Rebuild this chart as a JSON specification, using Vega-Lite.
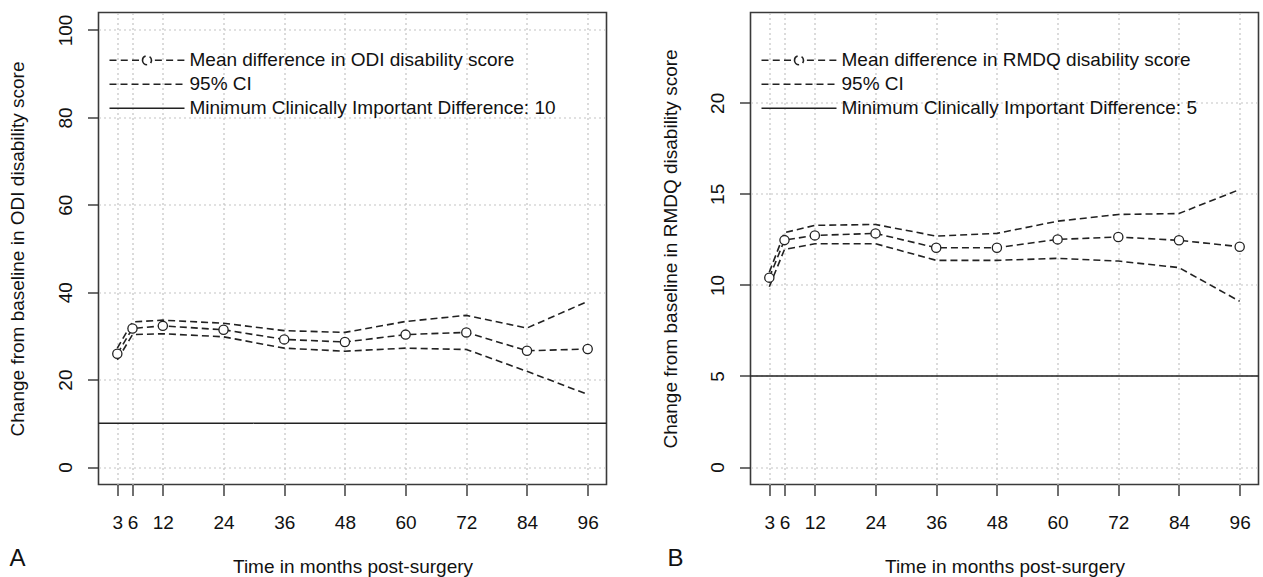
{
  "$schema": "https://vega.github.io/schema/vega-lite/v6.json",
  "background": "white",
  "padding": {"left": 7.5, "top": 11.5, "right": 0, "bottom": 0},
  "bounds": "flush",
  "spacing": 144,
  "config": {
    "font": "Liberation Sans",
    "view": {"stroke": "#3a3a3a", "strokeWidth": 1.6},
    "axis": {
      "domain": false,
      "grid": true,
      "gridColor": "#c4c4c4",
      "gridDash": [2, 3],
      "gridWidth": 1.2,
      "tickColor": "#333333",
      "tickWidth": 1.4,
      "tickSize": 11,
      "labelFont": "Liberation Sans",
      "labelFontSize": 19,
      "labelColor": "#111111",
      "labelOverlap": false,
      "labelFlush": false,
      "titleFont": "Liberation Sans",
      "titleFontSize": 19,
      "titleFontWeight": "normal",
      "titleColor": "#111111"
    },
    "legend": {
      "orient": "none",
      "padding": 0,
      "labelFont": "Liberation Sans",
      "labelFontSize": 19,
      "labelColor": "#111111",
      "labelLimit": 700,
      "labelOffset": 4,
      "symbolSize": 5625,
      "symbolStrokeWidth": 1.6,
      "symbolStrokeColor": "#222222",
      "symbolType": "stroke",
      "symbolOffset": 0,
      "clipHeight": 23.5,
      "rowPadding": 0
    },
    "title": {"fontSize": 24, "fontWeight": "normal", "color": "#111111", "font": "Liberation Sans"}
  },
  "datasets": {
    "odi": [
      {"month": 3, "series": "mean", "band": "mean", "value": 25.9},
      {"month": 6, "series": "mean", "band": "mean", "value": 31.7},
      {"month": 12, "series": "mean", "band": "mean", "value": 32.3},
      {"month": 24, "series": "mean", "band": "mean", "value": 31.4},
      {"month": 36, "series": "mean", "band": "mean", "value": 29.2},
      {"month": 48, "series": "mean", "band": "mean", "value": 28.6},
      {"month": 60, "series": "mean", "band": "mean", "value": 30.3},
      {"month": 72, "series": "mean", "band": "mean", "value": 30.8},
      {"month": 84, "series": "mean", "band": "mean", "value": 26.6},
      {"month": 96, "series": "mean", "band": "mean", "value": 27.0},
      {"month": 3, "series": "upper", "band": "ci", "value": 27.2},
      {"month": 6, "series": "upper", "band": "ci", "value": 33.2},
      {"month": 12, "series": "upper", "band": "ci", "value": 33.6},
      {"month": 24, "series": "upper", "band": "ci", "value": 32.9},
      {"month": 36, "series": "upper", "band": "ci", "value": 31.2},
      {"month": 48, "series": "upper", "band": "ci", "value": 30.8},
      {"month": 60, "series": "upper", "band": "ci", "value": 33.3},
      {"month": 72, "series": "upper", "band": "ci", "value": 34.7},
      {"month": 84, "series": "upper", "band": "ci", "value": 31.8},
      {"month": 96, "series": "upper", "band": "ci", "value": 37.9},
      {"month": 3, "series": "lower", "band": "ci", "value": 24.5},
      {"month": 6, "series": "lower", "band": "ci", "value": 30.3},
      {"month": 12, "series": "lower", "band": "ci", "value": 30.5},
      {"month": 24, "series": "lower", "band": "ci", "value": 29.8},
      {"month": 36, "series": "lower", "band": "ci", "value": 27.2},
      {"month": 48, "series": "lower", "band": "ci", "value": 26.5},
      {"month": 60, "series": "lower", "band": "ci", "value": 27.2},
      {"month": 72, "series": "lower", "band": "ci", "value": 26.9},
      {"month": 84, "series": "lower", "band": "ci", "value": 21.9},
      {"month": 96, "series": "lower", "band": "ci", "value": 16.6}
    ],
    "odi_mcid": [{"value": 10, "band": "mcid"}],
    "rmdq": [
      {"month": 3, "series": "mean", "band": "mean", "value": 10.4},
      {"month": 6, "series": "mean", "band": "mean", "value": 12.46},
      {"month": 12, "series": "mean", "band": "mean", "value": 12.72},
      {"month": 24, "series": "mean", "band": "mean", "value": 12.83},
      {"month": 36, "series": "mean", "band": "mean", "value": 12.04},
      {"month": 48, "series": "mean", "band": "mean", "value": 12.04},
      {"month": 60, "series": "mean", "band": "mean", "value": 12.5},
      {"month": 72, "series": "mean", "band": "mean", "value": 12.63},
      {"month": 84, "series": "mean", "band": "mean", "value": 12.45},
      {"month": 96, "series": "mean", "band": "mean", "value": 12.1},
      {"month": 3, "series": "upper", "band": "ci", "value": 10.7},
      {"month": 6, "series": "upper", "band": "ci", "value": 12.87},
      {"month": 12, "series": "upper", "band": "ci", "value": 13.27},
      {"month": 24, "series": "upper", "band": "ci", "value": 13.32},
      {"month": 36, "series": "upper", "band": "ci", "value": 12.68},
      {"month": 48, "series": "upper", "band": "ci", "value": 12.83},
      {"month": 60, "series": "upper", "band": "ci", "value": 13.5},
      {"month": 72, "series": "upper", "band": "ci", "value": 13.87},
      {"month": 84, "series": "upper", "band": "ci", "value": 13.92},
      {"month": 96, "series": "upper", "band": "ci", "value": 15.24},
      {"month": 3, "series": "lower", "band": "ci", "value": 9.9},
      {"month": 6, "series": "lower", "band": "ci", "value": 11.95},
      {"month": 12, "series": "lower", "band": "ci", "value": 12.26},
      {"month": 24, "series": "lower", "band": "ci", "value": 12.26},
      {"month": 36, "series": "lower", "band": "ci", "value": 11.35},
      {"month": 48, "series": "lower", "band": "ci", "value": 11.35},
      {"month": 60, "series": "lower", "band": "ci", "value": 11.46},
      {"month": 72, "series": "lower", "band": "ci", "value": 11.31},
      {"month": 84, "series": "lower", "band": "ci", "value": 10.95},
      {"month": 96, "series": "lower", "band": "ci", "value": 9.1}
    ],
    "rmdq_mcid": [{"value": 5, "band": "mcid"}]
  },
  "resolve": {
    "scale": {"x": "independent", "y": "independent", "strokeDash": "independent"},
    "legend": {"strokeDash": "independent"}
  },
  "hconcat": [
    {
      "width": 508,
      "height": 472,
      "title": {"text": "A", "orient": "bottom", "anchor": "start", "frame": "group", "dx": -89, "offset": -30},
      "layer": [
        {
          "data": {"name": "odi"},
          "mark": {"type": "line", "color": "#222222", "strokeWidth": 1.6},
          "encoding": {
            "x": {"field": "month", "type": "quantitative",
              "scale": {"domain": [-0.72, 99.72], "nice": false, "zero": false},
              "axis": {"values": [3, 6, 12, 24, 36, 48, 60, 72, 84, 96], "title": "Time in months post-surgery",
                "labelPadding": 18, "titleBaseline": "alphabetic", "titleY": 88}},
            "y": {"field": "value", "type": "quantitative",
              "scale": {"domain": [-4, 104], "nice": false, "zero": false},
              "axis": {"values": [0, 20, 40, 60, 80, 100], "title": "Change from baseline in ODI disability score",
                "labelAngle": -90, "labelAlign": "center", "labelBaseline": "bottom", "labelPadding": 12,
                "titleAngle": -90, "titleBaseline": "middle", "titleX": -81}},
            "detail": {"field": "series"},
            "strokeDash": {"field": "band", "type": "nominal",
              "scale": {"domain": ["mean", "ci", "mcid"], "range": [[7, 4], [7, 4], [1, 0]]},
              "legend": {"title": null, "legendX": 10, "legendY": 36,
                "labelExpr": "datum.value === 'mean' ? 'Mean difference in ODI disability score' : datum.value === 'ci' ? '95% CI' : 'Minimum Clinically Important Difference: 10'",
                "encode": {"symbols": {"update": {
                  "shape": {"signal": "datum.value === 'mean' ? 'M-1,0H-0.81M-0.7,0H-0.51M-0.4,0H-0.21M0.21,0H0.4M0.51,0H0.7M0.81,0H1M-0.12,0A0.12,0.12,0,1,0,0.12,0A0.12,0.12,0,1,0,-0.12,0' : 'M-1,0H1'"},
                  "strokeDash": {"signal": "datum.value === 'ci' ? [7, 4] : [1, 0]"}}}}}}
          }
        },
        {
          "data": {"name": "odi"},
          "transform": [{"filter": "datum.series === 'mean'"}],
          "mark": {"type": "point", "shape": "circle", "fill": "white", "stroke": "#222222", "strokeWidth": 1.3, "size": 85, "opacity": 1},
          "encoding": {
            "x": {"field": "month", "type": "quantitative"},
            "y": {"field": "value", "type": "quantitative"}
          }
        },
        {
          "data": {"name": "odi_mcid"},
          "mark": {"type": "rule", "color": "#222222", "strokeWidth": 1.6},
          "encoding": {
            "y": {"field": "value", "type": "quantitative"},
            "strokeDash": {"field": "band", "type": "nominal"}
          }
        }
      ]
    },
    {
      "width": 508,
      "height": 472,
      "title": {"text": "B", "orient": "bottom", "anchor": "start", "frame": "group", "dx": -83, "offset": -30},
      "layer": [
        {
          "data": {"name": "rmdq"},
          "mark": {"type": "line", "color": "#222222", "strokeWidth": 1.6},
          "encoding": {
            "x": {"field": "month", "type": "quantitative",
              "scale": {"domain": [-0.72, 99.72], "nice": false, "zero": false},
              "axis": {"values": [3, 6, 12, 24, 36, 48, 60, 72, 84, 96], "title": "Time in months post-surgery",
                "labelPadding": 18, "titleBaseline": "alphabetic", "titleY": 88}},
            "y": {"field": "value", "type": "quantitative",
              "scale": {"domain": [-0.96, 24.96], "nice": false, "zero": false},
              "axis": {"values": [0, 5, 10, 15, 20], "title": "Change from baseline in RMDQ disability score",
                "labelAngle": -90, "labelAlign": "center", "labelBaseline": "bottom", "labelPadding": 12,
                "titleAngle": -90, "titleBaseline": "middle", "titleX": -80}},
            "detail": {"field": "series"},
            "strokeDash": {"field": "band", "type": "nominal",
              "scale": {"domain": ["mean", "ci", "mcid"], "range": [[7, 4], [7, 4], [1, 0]]},
              "legend": {"title": null, "legendX": 10, "legendY": 36,
                "labelExpr": "datum.value === 'mean' ? 'Mean difference in RMDQ disability score' : datum.value === 'ci' ? '95% CI' : 'Minimum Clinically Important Difference: 5'",
                "encode": {"symbols": {"update": {
                  "shape": {"signal": "datum.value === 'mean' ? 'M-1,0H-0.81M-0.7,0H-0.51M-0.4,0H-0.21M0.21,0H0.4M0.51,0H0.7M0.81,0H1M-0.12,0A0.12,0.12,0,1,0,0.12,0A0.12,0.12,0,1,0,-0.12,0' : 'M-1,0H1'"},
                  "strokeDash": {"signal": "datum.value === 'ci' ? [7, 4] : [1, 0]"}}}}}}
          }
        },
        {
          "data": {"name": "rmdq"},
          "transform": [{"filter": "datum.series === 'mean'"}],
          "mark": {"type": "point", "shape": "circle", "fill": "white", "stroke": "#222222", "strokeWidth": 1.3, "size": 85, "opacity": 1},
          "encoding": {
            "x": {"field": "month", "type": "quantitative"},
            "y": {"field": "value", "type": "quantitative"}
          }
        },
        {
          "data": {"name": "rmdq_mcid"},
          "mark": {"type": "rule", "color": "#222222", "strokeWidth": 1.6},
          "encoding": {
            "y": {"field": "value", "type": "quantitative"},
            "strokeDash": {"field": "band", "type": "nominal"}
          }
        }
      ]
    }
  ]
}
